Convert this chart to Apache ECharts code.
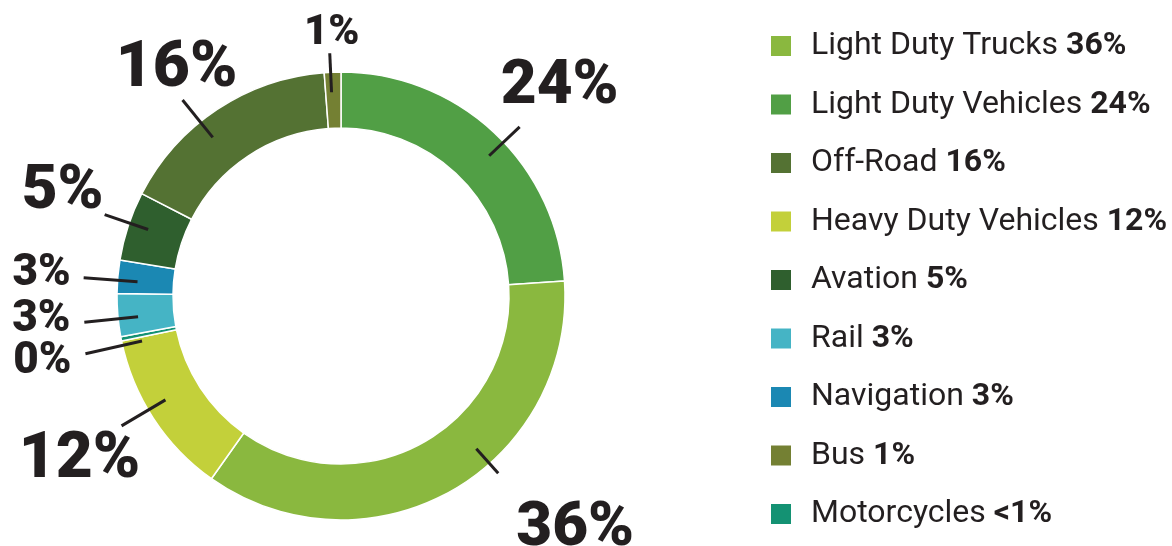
<!DOCTYPE html>
<html>
<head>
<meta charset="utf-8">
<script src="https://cdn.jsdelivr.net/npm/echarts@6/dist/echarts.min.js"></script>
<style>
  html, body { margin: 0; padding: 0; background: #fff; }
  #main { width: 1172px; height: 546px; }
</style>
</head>
<body>
<div id="main"></div>
<script>
// slices, clockwise from 12 o'clock
const names = ['Light Duty Vehicles', 'Light Duty Trucks', 'Heavy Duty Vehicles', 'Motorcycles',
  'Rail', 'Navigation', 'Avation', 'Off-Road', 'Bus'];
const values = [24, 36, 12, 0.3, 3.1, 2.4, 5, 16.3, 1.2];
const chartLabels = ['24%', '36%', '12%', '0%', '3%', '3%', '5%', '16%', '1%'];
const colors = ['#519f45', '#8ab83f', '#c3d03a', '#149273', '#45b4c5', '#1b88b3', '#2f5f2e', '#547233', '#748033'];

// legend order + its text
const legendNames = ['Light Duty Trucks', 'Light Duty Vehicles', 'Off-Road', 'Heavy Duty Vehicles',
  'Avation', 'Rail', 'Navigation', 'Bus', 'Motorcycles'];
const legendPct = ['36%', '24%', '16%', '12%', '5%', '3%', '3%', '1%', '<1%'];

// label look, per slice: font size, leader length, leader turn (deg), shift from end of leader
const labelSizes = [62, 62, 64, 44, 44, 44, 62, 64, 42];
const lineLengths = [42, 33, 51, 58, 54, 54, 46, 48, 39];
const lineTurn = [3.5, -12.3, 2.5, -1.7, -0.9, -0.9, 0.8, -5.4, -0.5];
const labelShift = [[40, -39], [77, 56], [-42, 35], [-43, 8], [-43, -2], [-42, -4], [-42, -22], [-6, -30], [2, -20]];

const ink = '#231f20';
const center = [341, 296];

let myChart = echarts.init(document.getElementById('main'));

let ringData = names.map((n, i) => ({ name: n, value: values[i], itemStyle: { color: colors[i] } }));
let labelData = names.map((n, i) => ({
  name: n, value: values[i],
  label: { formatter: chartLabels[i], fontSize: labelSizes[i] },
  labelLine: { length: lineLengths[i] }
}));

// turn a leader line round the pie centre
function turn(p, deg) {
  const a = deg * Math.PI / 180;
  const dx = p[0] - center[0], dy = p[1] - center[1];
  return [center[0] + dx * Math.cos(a) - dy * Math.sin(a), center[1] + dx * Math.sin(a) + dy * Math.cos(a)];
}

let option = {
  animation: false,
  legend: {
    orient: 'vertical',
    left: 764,
    top: 25,
    itemWidth: 22,
    itemHeight: 22,
    itemGap: 26.5,
    icon: 'rect',
    selectedMode: false,
    data: legendNames,
    formatter: function (name) {
      return '{n|' + name + ' }{b|' + legendPct[legendNames.indexOf(name)] + '}';
    },
    textStyle: {
      padding: [0, 0, 0, 14],
      lineHeight: 32,
      rich: {
        n: { fontFamily: 'Roboto', fontSize: 32, color: ink, lineHeight: 32 },
        b: { fontFamily: 'Roboto', fontSize: 32, fontWeight: 'bold', color: ink, lineHeight: 32 }
      }
    }
  },
  series: [
    {
      type: 'pie',
      center: center,
      radius: [168, 224],
      startAngle: 90,
      silent: true,
      z: 2,
      label: { show: false },
      labelLine: { show: false },
      itemStyle: { borderColor: '#fff', borderWidth: 1.5 },
      data: ringData
    },
    {
      type: 'pie',
      center: center,
      radius: [0, 204],
      startAngle: 90,
      silent: true,
      z: 5,
      avoidLabelOverlap: false,
      itemStyle: { color: 'rgba(0,0,0,0)', borderWidth: 0 },
      label: {
        show: true,
        position: 'outside',
        fontFamily: 'Roboto',
        fontWeight: 900,
        color: ink
      },
      labelLine: {
        show: true,
        length: 46,
        length2: 0,
        lineStyle: { color: ink, width: 3 }
      },
      labelLayout: function (params) {
        const i = params.dataIndex;
        const pts = params.labelLinePoints.map(p => turn(p, lineTurn[i]));
        const end = pts[pts.length - 1];
        const s = labelShift[i];
        return {
          x: end[0] + s[0],
          y: end[1] + s[1],
          align: 'center',
          verticalAlign: 'middle',
          labelLinePoints: pts
        };
      },
      data: labelData
    }
  ]
};
myChart.setOption(option);
</script>
</body>
</html>
